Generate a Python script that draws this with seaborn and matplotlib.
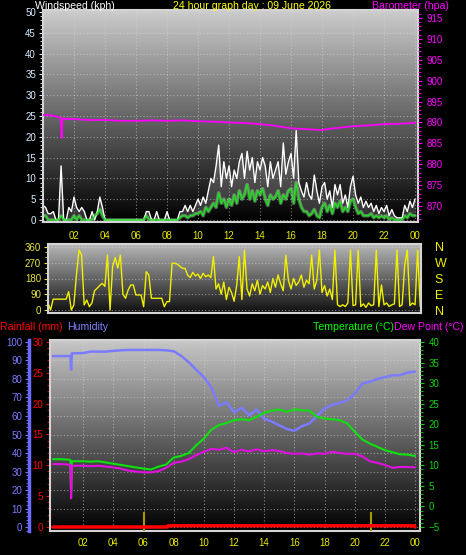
import numpy as np
import matplotlib
matplotlib.use('Agg')
import matplotlib.pyplot as plt
from matplotlib.ticker import MultipleLocator
import seaborn as sns

# ---------------- data ----------------
# 10 minute samples, 00:00 .. 24:00
hours_10min = np.arange(145) / 6.0

wind_gust = [
    3.5, 3, 1.5, 1.5, 2, 0,
    0, 13, 0, 0, 3, 2,
    5.5, 3, 2, 3, 2, 0,
    0, 2, 0, 2, 5.5, 3,
    0, 0, 0, 0, 0, 0,
    0, 0, 0, 0, 0, 0,
    0, 0, 0, 0, 2, 2,
    0, 0, 2, 0, 0, 0,
    2, 0, 0, 0, 0, 2,
    2, 3.5, 2, 3.5, 2, 3.5,
    5, 3.5, 5.5, 4, 7, 10,
    9, 13, 18, 8, 14, 10,
    13, 8, 12, 10, 14, 16,
    10, 16.5, 12, 15, 9, 14,
    12, 15, 13, 8, 14, 10,
    12, 14, 8, 18.5, 11, 14,
    16, 10, 21.5, 9, 7, 5.5,
    9, 6, 5, 10.8, 7, 4,
    8, 9, 5, 7, 3, 8.5,
    6, 8.5, 4, 6, 3, 8,
    10.5, 6, 4, 5.5, 3, 4.5,
    3, 4, 2, 3.5, 1.5, 3,
    2, 3.5, 1, 2.5, 1, 0.5,
    0.5, 0.5, 3.5, 2, 4.5, 3,
    5,
]

wind_speed = [
    1, 1, 0, 0, 0, 0,
    0, 1, 0, 0, 0, 0,
    1, 0, 1, 0, 0, 0,
    0, 0, 1, 1.5, 2.5, 1,
    0, 0, 0, 0, 0, 0,
    0, 0, 0, 0, 0, 0,
    0, 0, 0, 0, 1, 0,
    0, 0, 0, 0, 0, 0,
    0, 0, 0, 0, 0, 0.5,
    1, 1, 0.5, 1, 1, 1.5,
    1.5, 2, 1, 3, 2, 3,
    4, 3, 6.5, 4, 5, 3,
    5, 3.5, 6, 4, 7, 5,
    6, 8.5, 5, 7, 4.5, 7,
    6, 7.5, 5, 3.5, 6, 5,
    5.5, 7, 4, 6, 5, 7,
    7.5, 4, 9, 5, 3, 2,
    2, 1, 1.5, 2.5, 1, 0.5,
    3, 4, 2, 3.5, 1.5, 4,
    3, 4.5, 2, 3, 2, 4.5,
    5, 3, 1.5, 2, 1, 1,
    1, 1.5, 0.5, 1, 0.5, 1,
    0.5, 1, 0, 0.5, 0, 0,
    0, 0, 1, 0.5, 1.5, 1,
    1,
]

wind_dir = [
    40, 0, 62, 62, 62, 62,
    62, 62, 105, 0, 29, 200,
    343, 314, 29, 57, 19, 40,
    110, 124, 140, 152, 135, 314,
    0, 250, 300, 240, 314, 90,
    67, 114, 143, 143, 86, 86,
    86, 19, 219, 200, 67, 67,
    67, 67, 67, 19, 48, 48,
    267, 267, 262, 250, 238, 238,
    200, 185, 215, 195, 205, 180,
    210, 190, 200, 185, 305, 120,
    150, 90, 160, 60, 130, 100,
    50, 140, 305, 60, 343, 120,
    80, 150, 110, 170, 90, 140,
    120, 160, 100, 180, 130, 200,
    150, 110, 314, 170, 120, 180,
    140, 160, 200, 130, 170, 150,
    314, 120, 170, 343, 100, 140,
    80, 120, 60, 343, 30, 20,
    30, 20, 40, 343, 25, 30,
    343, 20, 35, 15, 40, 25,
    30, 343, 20, 143, 30, 40,
    20, 30, 35, 343, 20, 30,
    257, 343, 25, 40, 30, 343,
    20,
]

baro_hours = [0, 0.5, 1.0, 1.15, 1.2, 1.25, 2, 3, 4, 5, 6, 7, 8, 9, 10, 11, 12,
              13, 14, 15, 16, 17, 18, 18.5, 19, 20, 21, 22, 23, 24]
baro_hpa = [891.8, 891.7, 891.3, 891.1, 886.3, 890.9, 890.8, 890.6, 890.6, 890.4,
            890.4, 890.5, 890.4, 890.5, 890.3, 890.2, 890.0, 889.9, 889.6, 889.2,
            888.6, 888.4, 888.2, 888.5, 888.7, 889.1, 889.3, 889.6, 889.7, 889.9]

bottom_hours = [0, 0.5, 1.0, 1.15, 1.2, 1.25, 1.5, 2, 2.5, 3, 3.5, 4, 4.5, 5, 5.5,
                6, 6.5, 7, 7.5, 8, 8.5, 9, 9.5, 10, 10.5, 11, 11.5, 12, 12.5, 13,
                13.5, 14, 14.5, 15, 15.5, 16, 16.5, 17, 17.5, 18, 18.5, 19, 19.5,
                20, 20.5, 21, 21.5, 22, 22.5, 23, 23.5, 24]
temperature = [11.5, 11.5, 11.4, 11.3, 3.6, 11.0, 11.0, 11.0, 10.9, 11.0, 10.7,
               10.4, 10.1, 9.8, 9.5, 9.2, 9.0, 9.7, 10.2, 11.9, 12.3, 13.0, 14.9,
               16.5, 18.7, 19.8, 20.3, 21.0, 21.2, 21.0, 21.8, 22.8, 23.3, 23.6,
               23.0, 23.6, 23.4, 23.3, 21.8, 21.4, 21.2, 21.0, 20.2, 18.2, 16.3,
               15.3, 14.5, 13.7, 13.2, 12.7, 12.6, 12.3]
dew_point = [10.3, 10.3, 10.2, 10.1, 2.0, 9.9, 9.9, 9.9, 9.8, 9.9, 9.7, 9.5, 9.2,
             8.7, 8.5, 8.3, 8.3, 8.6, 9.4, 10.6, 10.9, 11.5, 12.5, 13.3, 14.0,
             13.8, 14.3, 13.2, 13.8, 13.4, 13.9, 13.4, 13.7, 13.5, 13.0, 12.8,
             12.9, 12.6, 12.9, 12.8, 13.3, 13.0, 12.8, 12.8, 12.2, 11.0, 10.6,
             10.1, 9.4, 9.6, 9.6, 9.5]
humidity = [92.4, 92.4, 92.4, 92.4, 85.0, 93.9, 93.9, 94.0, 94.8, 94.8, 94.8,
            95.2, 95.5, 95.7, 95.7, 95.7, 95.7, 95.7, 95.5, 95.0, 92.5, 89.0,
            85.0, 81.0, 75.5, 65.5, 67.5, 62.0, 64.5, 60.5, 63.5, 58.5, 57.0,
            55.0, 53.0, 52.0, 54.5, 56.0, 60.0, 64.0, 66.0, 67.0, 68.5, 72.0,
            77.5, 78.5, 80.0, 81.0, 82.0, 82.0, 83.5, 84.0]

rain_hours = [0, 7.6, 7.62, 23.95, 24.0]
rain_mm = [0, 0, 0.2, 0.2, 0]
mark_hours = [6.05, 21.05]
mark_top_mm = 2.4

hour_ticks = list(range(2, 25, 2))
hour_labels = ['%02d' % (h % 24) for h in hour_ticks]
compass_deg = [0, 90, 180, 270, 360]
compass = ['N', 'E', 'S', 'W', 'N']

# ---------------- style ----------------
sns.set_style('dark', {'axes.facecolor': 'black', 'figure.facecolor': 'black'})
plt.rcParams['font.family'] = ['Liberation Sans', 'DejaVu Sans']

W, H = 466, 555
FRAME = '#d4d4d4'
GRID = dict(color='#d8d8d8', linestyle=(0, (1, 2)), linewidth=0.8, alpha=0.55)
TITLE_SIZE = 7.6


def box(l, t, r, b):
    return [l / W, 1 - b / H, (r - l) / W, (b - t) / H]


def shade(ax, top, bottom):
    grad = np.linspace(bottom, top, 256).reshape(-1, 1)
    ax.imshow(grad, extent=(0, 1, 0, 1), transform=ax.transAxes, origin='lower',
              aspect='auto', cmap='gray', vmin=0, vmax=1, zorder=0)


def frame(ax, color=FRAME, sides=('left', 'right', 'top', 'bottom')):
    for s, sp in ax.spines.items():
        sp.set_visible(s in sides)
        sp.set_color(color)
        sp.set_linewidth(1.5)


fig = plt.figure(figsize=(W / 100, H / 100), dpi=100)

# ---------------- wind speed + barometer ----------------
ax1 = fig.add_axes(box(43, 10, 418, 222))
shade(ax1, 0.80, 0.0)
ax1.fill_between(hours_10min, wind_speed, wind_gust,
                 color='white', alpha=0.18, lw=0, zorder=1)
sns.lineplot(x=hours_10min, y=wind_gust, ax=ax1, color='white', lw=1.0)
sns.lineplot(x=hours_10min, y=wind_speed, ax=ax1, color='#a8f0a8', lw=2.6,
             alpha=0.4)
sns.lineplot(x=hours_10min, y=wind_speed, ax=ax1, color='#22dd22', lw=1.0)
ax1.set_xlim(0, 24.19)
ax1.set_ylim(-0.5, 50.5)
ax1.set_yticks(range(0, 51, 5))
ax1.yaxis.set_minor_locator(MultipleLocator(1))
ax1.tick_params(axis='y', which='both', colors='#d8ecff', left=True,
                direction='out', labelsize=7, length=3, pad=2)
ax1.tick_params(axis='y', which='minor', length=2)
ax1.set_xticks(hour_ticks, hour_labels)
ax1.tick_params(axis='x', colors='#e8e800', length=0, labelsize=7, pad=6.5)
ax1.grid(True, **GRID)
frame(ax1)

ax1b = ax1.twinx()
sns.lineplot(x=baro_hours, y=baro_hpa, ax=ax1b, color='#ff00ff', lw=1.3)
ax1b.set_ylim(866.2, 916.9)
ax1b.set_yticks(range(870, 916, 5))
ax1b.yaxis.set_minor_locator(MultipleLocator(1))
ax1b.tick_params(axis='y', which='both', colors='#ff00ff', right=True,
                 labelsize=7, length=3, pad=3)
ax1b.tick_params(axis='y', which='minor', length=2)
ax1b.grid(False)
frame(ax1b, sides=())

fig.text(35 / W, 1 - 6 / H, 'Windspeed (kph)', color='white',
         fontsize=TITLE_SIZE, va='center')
fig.text(173 / W, 1 - 6 / H, '24 hour graph day : 09 June 2026', color='#ffff00',
         fontsize=TITLE_SIZE, va='center')
fig.text(372 / W, 1 - 6 / H, 'Barometer (hpa)', color='#ff00ff',
         fontsize=TITLE_SIZE, va='center')

# ---------------- wind direction ----------------
ax2 = fig.add_axes(box(48, 244, 421, 313))
shade(ax2, 0.72, 0.06)
sns.lineplot(x=hours_10min, y=wind_dir, ax=ax2, color='#f0f000', lw=1.0)
ax2.set_xlim(0, 24.05)
ax2.set_ylim(-17, 377)
ax2.set_xticks([])
ax2.set_yticks(compass_deg)
ax2.yaxis.set_minor_locator(MultipleLocator(30))
ax2.tick_params(axis='y', which='both', colors='#e6e640', left=True,
                labelsize=7, length=3, pad=2)
ax2.tick_params(axis='y', which='minor', length=2)
ax2.grid(True, axis='y', **GRID)
frame(ax2)

ax2b = ax2.twinx()
ax2b.set_ylim(-17, 377)
ax2b.set_yticks(compass_deg, compass)
ax2b.tick_params(axis='y', colors='#f0f000', length=0, labelsize=9, pad=10)
ax2b.grid(False)
frame(ax2b, sides=())

# ---------------- humidity / rain / temperature ----------------
ax3 = fig.add_axes(box(50, 340, 420, 531))
shade(ax3, 0.78, 0.0)
sns.lineplot(x=bottom_hours, y=humidity, ax=ax3, color='#7b7bff', lw=1.8)
ax3.set_xlim(-0.2, 24.33)
ax3.set_ylim(-2.16, 101.08)
ax3.set_yticks(range(0, 101, 10))
ax3.yaxis.set_minor_locator(MultipleLocator(2))
ax3.tick_params(axis='y', which='both', colors='#7b7bff', left=True,
                labelsize=7, length=3, pad=2)
ax3.tick_params(axis='y', which='minor', length=2)
ax3.set_xticks(hour_ticks, hour_labels)
ax3.tick_params(axis='x', colors='#e8e800', length=0, labelsize=7, pad=5)
ax3.grid(True, **GRID)
frame(ax3, sides=('left', 'right', 'top', 'bottom'))
ax3.spines['left'].set_position(('outward', 15))
ax3.spines['left'].set_color('#6a6aff')
ax3.spines['left'].set_linewidth(2.5)

axt = ax3.twinx()
sns.lineplot(x=bottom_hours, y=temperature, ax=axt, color='#10e010', lw=1.5)
sns.lineplot(x=bottom_hours, y=dew_point, ax=axt, color='#e010e0', lw=1.5)
axt.set_ylim(-5.97, 40.49)
axt.set_yticks(range(-5, 41, 5))
axt.yaxis.set_minor_locator(MultipleLocator(1))
axt.tick_params(axis='y', which='both', colors='#10d010', right=True,
                labelsize=7, length=3, pad=3)
axt.tick_params(axis='y', which='minor', length=2)
axt.grid(False)
frame(axt, sides=())

axr = ax3.twinx()
axr.yaxis.tick_left()
axr.vlines(mark_hours, -0.65, mark_top_mm, color='#a89800', lw=1.5)
sns.lineplot(x=rain_hours, y=rain_mm, ax=axr, color='#ff0000', lw=2.5)
axr.set_ylim(-0.65, 30.32)
axr.set_yticks(range(0, 31, 5))
axr.yaxis.set_minor_locator(MultipleLocator(1))
axr.tick_params(axis='y', which='both', colors='#ff0000', left=True, right=False,
                labelleft=True, labelright=False, labelsize=7, length=3, pad=2)
axr.tick_params(axis='y', which='minor', length=2)
axr.grid(False)
frame(axr, sides=('left',))

fig.text(0 / W, 1 - 327 / H, 'Rainfall (mm)', color='#ff0000',
         fontsize=TITLE_SIZE, va='center')
fig.text(67 / W, 1 - 327 / H, 'Humidity', color='#8080ff',
         fontsize=TITLE_SIZE, va='center')
fig.text(313 / W, 1 - 327 / H, 'Temperature (°C)', color='#00ff00',
         fontsize=TITLE_SIZE, va='center')
fig.text(394 / W, 1 - 327 / H, 'Dew Point (°C)', color='#ff00ff',
         fontsize=TITLE_SIZE, va='center')

fig.savefig('out.png', dpi=100, facecolor='black')
